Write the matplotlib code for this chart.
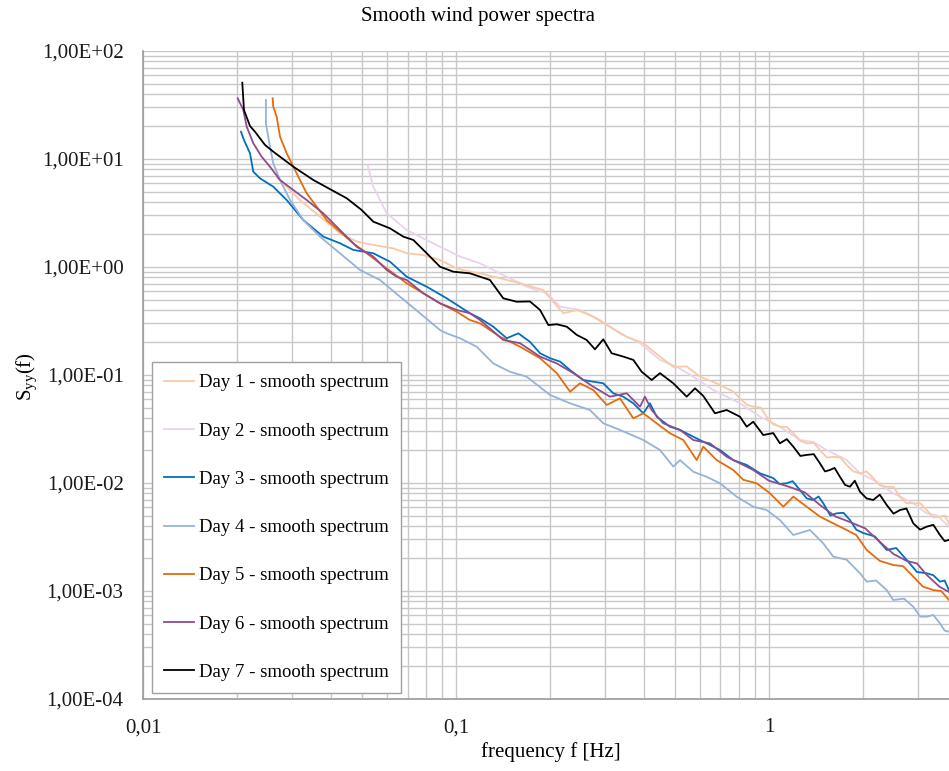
import matplotlib
matplotlib.use("Agg")
import matplotlib.pyplot as plt
from matplotlib.ticker import LogLocator, NullFormatter

plt.rcParams['font.family'] = ['Liberation Serif', 'DejaVu Serif']

# values (frequency in Hz, Syy)
f_day1 = [0.0267, 0.0317, 0.0368, 0.0426, 0.0482, 0.0544, 0.0630, 0.0696, 0.0786, 0.0889, 0.1005, 0.1108,
          0.1193, 0.1382, 0.1602, 0.1901, 0.2023, 0.2204, 0.2432, 0.2745, 0.3030, 0.3511, 0.3967, 0.4485,
          0.4946, 0.5460, 0.6020, 0.6806, 0.7328, 0.77, 0.808, 0.85, 0.891, 0.94, 0.983, 1.03, 1.084, 1.14,
          1.196, 1.26, 1.320, 1.39, 1.455, 1.53, 1.605, 1.69, 1.771, 1.86, 1.953, 2.05, 2.154, 2.26, 2.377,
          2.50, 2.621, 2.75, 2.891, 3.04, 3.190, 3.35, 3.518, 3.64, 3.759]
s_day1 = [6.86, 4.17, 2.92, 2.05, 1.72, 1.60, 1.49, 1.34, 1.29, 1.16, 0.972, 0.905,
          0.874, 0.786, 0.707, 0.612, 0.495, 0.373, 0.400, 0.347, 0.290, 0.226, 0.197, 0.148,
          0.119, 0.120, 0.0965, 0.0838, 0.0753, 0.0700, 0.0608, 0.0530, 0.0509, 0.0500, 0.0411, 0.0350,
          0.0332, 0.0330, 0.0289, 0.0245, 0.0233, 0.0235, 0.0202, 0.0172, 0.0175, 0.0172, 0.0147, 0.0128,
          0.0123, 0.0128, 0.0111, 0.0095, 0.00924, 0.0092, 0.00747, 0.0065, 0.00649, 0.0065, 0.00562,
          0.0048, 0.00488, 0.0050, 0.00423]

f_day2 = [0.0522, 0.0544, 0.0601, 0.0696, 0.0786, 0.0889, 0.1030, 0.1193, 0.1382, 0.1682, 0.1950, 0.2151,
          0.2489, 0.2884, 0.3342, 0.3872, 0.4485, 0.5072, 0.5731, 0.6637, 0.7328, 0.8080, 0.9359, 1.084,
          1.256, 1.385, 1.529, 1.771, 1.953, 2.154, 2.495, 2.891, 3.190, 3.45, 3.759]
s_day2 = [8.80, 5.54, 3.14, 2.20, 1.84, 1.54, 1.25, 1.08, 0.874, 0.657, 0.571, 0.429,
          0.400, 0.323, 0.243, 0.197, 0.138, 0.119, 0.0965, 0.0726, 0.0630, 0.0547, 0.0411, 0.0332,
          0.0250, 0.0240, 0.0202, 0.0163, 0.0123, 0.0107, 0.00803, 0.00649, 0.00524, 0.0050, 0.00394]

f_day3 = [0.02056, 0.02102, 0.02197, 0.02251, 0.02364, 0.02607, 0.02878, 0.03252, 0.03767, 0.04259, 0.04697,
          0.05442, 0.06154, 0.06958, 0.08062, 0.09339, 0.1108, 0.1193, 0.1316, 0.1452, 0.1582, 0.1723,
          0.1856, 0.1998, 0.2151, 0.2315, 0.2550, 0.2745, 0.2955, 0.3181, 0.3424, 0.3686, 0.3967, 0.4167,
          0.4377, 0.4827, 0.5197, 0.5731, 0.6324, 0.6974, 0.7689, 0.8489, 0.9359, 1.032, 1.08, 1.139, 1.19,
          1.256, 1.32, 1.385, 1.44, 1.491, 1.57, 1.645, 1.73, 1.815, 1.90, 2.001, 2.18, 2.377, 2.55, 2.754,
          2.97, 3.190, 3.35, 3.518, 3.64, 3.759]
s_day3 = [17.9, 15.0, 11.3, 7.63, 6.63, 5.54, 4.17, 2.72, 1.91, 1.66, 1.44,
          1.34, 1.12, 0.813, 0.657, 0.513, 0.373, 0.335, 0.280, 0.219, 0.243, 0.203,
          0.159, 0.143, 0.133, 0.111, 0.0899, 0.0867, 0.0838, 0.0677, 0.0630, 0.0547, 0.0442, 0.0547,
          0.0411, 0.0332, 0.0310, 0.0268, 0.0233, 0.0202, 0.0163, 0.0147, 0.0123, 0.0111, 0.0098, 0.00994, 0.0104,
          0.00861, 0.0072, 0.00696, 0.0075, 0.00649, 0.0050, 0.00524, 0.0053, 0.00454, 0.0037, 0.00344, 0.0032,
          0.00240, 0.0025, 0.00194, 0.0015, 0.00146, 0.0014, 0.00122, 0.00125, 0.00102]

f_day4 = [0.02471, 0.02470, 0.02545, 0.02607, 0.02740, 0.02949, 0.03252, 0.03677, 0.04259, 0.04935,
          0.05718, 0.06623, 0.07674, 0.08889, 0.09339, 0.1030, 0.1164, 0.1316, 0.1488, 0.1682, 0.1998,
          0.2315, 0.2679, 0.2955, 0.3342, 0.3967, 0.4485, 0.4946, 0.5197, 0.5731, 0.6324, 0.6974, 0.7884,
          0.8909, 0.983, 1.084, 1.196, 1.352, 1.491, 1.605, 1.77, 1.953, 2.052, 2.20, 2.377, 2.495, 2.70,
          2.891, 3.04, 3.190, 3.35, 3.518, 3.64, 3.759]
s_day4 = [35.2, 21.4, 13.0, 9.12, 6.39, 4.17, 2.72, 1.91, 1.34, 0.938,
          0.758, 0.531, 0.373, 0.261, 0.243, 0.219, 0.183, 0.128, 0.107, 0.0965, 0.0653,
          0.0547, 0.0474, 0.0357, 0.0310, 0.0250, 0.0202, 0.0142, 0.0163, 0.0127, 0.0114, 0.00994, 0.00747,
          0.00603, 0.00562, 0.00454, 0.00330, 0.00367, 0.00276, 0.00208, 0.00195, 0.00146, 0.00122, 0.00125,
          0.00102, 0.000825, 0.00085, 0.000715, 0.00058, 0.000578, 0.00060, 0.000502, 0.00043, 0.000420]

f_day5 = [0.02596, 0.02607, 0.02674, 0.02740, 0.02878, 0.03022, 0.03173, 0.03334, 0.03589, 0.03862, 0.04259,
          0.04697, 0.05185, 0.05718, 0.06305, 0.06958, 0.07862, 0.08889, 0.1005, 0.1108, 0.1193, 0.1382,
          0.1602, 0.1856, 0.2099, 0.2315, 0.2489, 0.2745, 0.3030, 0.3342, 0.3686, 0.3967, 0.4377, 0.4827,
          0.5325, 0.5875, 0.6167, 0.6806, 0.7689, 0.8279, 0.9135, 1.007, 1.111, 1.196, 1.320, 1.455, 1.605,
          1.771, 1.90, 2.052, 2.26, 2.495, 2.68, 2.891, 3.10, 3.349, 3.55, 3.759]
s_day5 = [36.5, 30.5, 24.6, 16.1, 11.3, 8.49, 6.39, 4.81, 3.62, 2.72, 2.12,
          1.66, 1.34, 1.08, 0.874, 0.707, 0.571, 0.461, 0.386, 0.323, 0.301, 0.226,
          0.183, 0.143, 0.104, 0.0700, 0.0838, 0.0726, 0.0528, 0.0608, 0.0397, 0.0442, 0.0357, 0.0289,
          0.0250, 0.0163, 0.0217, 0.0163, 0.0132, 0.0107, 0.00994, 0.00803, 0.00603, 0.00747, 0.00603, 0.00488,
          0.00423, 0.00367, 0.0033, 0.00240, 0.0019, 0.00174, 0.0017, 0.00136, 0.0011, 0.00102, 0.00100, 0.000825]

f_day6 = [0.02007, 0.02092, 0.02145, 0.02251, 0.02394, 0.02545, 0.02740, 0.03022, 0.03334, 0.03767, 0.04259,
          0.04816, 0.05442, 0.06007, 0.06464, 0.06958, 0.07862, 0.08889, 0.1005, 0.1108, 0.1193, 0.1416,
          0.1602, 0.1856, 0.2099, 0.2372, 0.2745, 0.3105, 0.3511, 0.3872, 0.4016, 0.4219, 0.4595, 0.5197,
          0.5731, 0.6479, 0.7328, 0.8909, 1.0, 1.139, 1.3, 1.455, 1.63, 1.815, 2.03, 2.262, 2.5, 2.754,
          2.97, 3.190, 3.5, 3.759]
s_day6 = [36.5, 28.4, 19.9, 14.0, 10.5, 8.49, 6.39, 5.16, 4.17, 3.14, 2.20,
          1.54, 1.25, 0.938, 0.813, 0.758, 0.571, 0.461, 0.400, 0.373, 0.323, 0.211,
          0.197, 0.148, 0.128, 0.104, 0.0779, 0.0630, 0.0677, 0.0509, 0.0630, 0.0474, 0.0357, 0.0310,
          0.0250, 0.0233, 0.0175, 0.0132, 0.0105, 0.00938, 0.0082, 0.00626, 0.0049, 0.00435, 0.0038, 0.00284,
          0.0022, 0.00190, 0.0018, 0.00141, 0.0011, 0.00098]

f_day7 = [0.02076, 0.02102, 0.02197, 0.02279, 0.02453, 0.02607, 0.03022, 0.03501, 0.04006, 0.04475, 0.04997,
          0.05442, 0.06154, 0.06786, 0.07305, 0.08062, 0.08889, 0.09804, 0.1108, 0.1284, 0.1416, 0.1563,
          0.1723, 0.1856, 0.1973, 0.2099, 0.2260, 0.2432, 0.2615, 0.2780, 0.2955, 0.3144, 0.3424, 0.3686,
          0.3921, 0.4219, 0.4485, 0.4946, 0.5460, 0.5803, 0.6167, 0.6722, 0.7328, 0.8080, 0.8489, 0.8909,
          0.9589, 1.032, 1.084, 1.14, 1.196, 1.26, 1.320, 1.39, 1.455, 1.51, 1.566, 1.62, 1.686, 1.75, 1.815,
          1.88, 1.953, 2.05, 2.154, 2.26, 2.377, 2.50, 2.621, 2.75, 2.891, 3.04, 3.190, 3.35, 3.518, 3.64, 3.759]
s_day7 = [50.9, 28.4, 20.2, 17.9, 13.5, 11.7, 8.49, 6.39, 5.16, 4.33, 3.37,
          2.63, 2.28, 1.91, 1.78, 1.34, 1.006, 0.905, 0.874, 0.758, 0.513, 0.477,
          0.480, 0.400, 0.290, 0.295, 0.280, 0.235, 0.211, 0.173, 0.214, 0.159, 0.148, 0.138,
          0.107, 0.0899, 0.104, 0.0838, 0.0630, 0.0753, 0.0640, 0.0442, 0.0474, 0.0411, 0.0332, 0.0369,
          0.0278, 0.0290, 0.0233, 0.0255, 0.0217, 0.0178, 0.0182, 0.0185, 0.0152, 0.0128, 0.0132, 0.0138,
          0.0114, 0.0096, 0.00924, 0.0105, 0.00831, 0.0072, 0.00696, 0.0078, 0.00626, 0.0052, 0.00562,
          0.0058, 0.00423, 0.0037, 0.00394, 0.0041, 0.00330, 0.0029, 0.00297]

labels = ['Day 1 - smooth spectrum', 'Day 2 - smooth spectrum', 'Day 3 - smooth spectrum',
          'Day 4 - smooth spectrum', 'Day 5 - smooth spectrum', 'Day 6 - smooth spectrum',
          'Day 7 - smooth spectrum']
colors = ['#F9C9A4', '#EAD3EA', '#0070C0', '#95B3D7', '#E46C0A', '#8E4B8E', '#000000']
y_ticks = [1e-4, 1e-3, 1e-2, 1e-1, 1e0, 1e1, 1e2]
x_ticks = [0.01, 0.1, 1]
x_ticklabels = ['0,01', '0,1', '1']

series = [(f_day1, s_day1), (f_day2, s_day2), (f_day3, s_day3), (f_day4, s_day4),
          (f_day5, s_day5), (f_day6, s_day6), (f_day7, s_day7)]

fig = plt.figure(figsize=(9.49, 7.71), dpi=100)
ax = fig.add_axes([143 / 949, 1 - 699 / 771, 806 / 949, 648 / 771])

for i, (f, s) in enumerate(series):
    z = 1.5 if i == 1 else 2
    ax.plot(f, s, color=colors[i], lw=1.3, label=labels[i], zorder=z)

ax.set_xscale('log')
ax.set_yscale('log')
ax.set_xlim(0.01, 3.76)
ax.set_ylim(1e-4, 1e2)

ax.set_yticks(y_ticks)
ax.set_yticklabels([f"{v:.2E}".replace('.', ',') for v in y_ticks])
ax.set_xticks(x_ticks)
ax.set_xticklabels(x_ticklabels)
ax.xaxis.set_minor_locator(LogLocator(base=10, subs=range(2, 10), numticks=20))
ax.yaxis.set_minor_locator(LogLocator(base=10, subs=range(2, 10), numticks=20))
ax.xaxis.set_minor_formatter(NullFormatter())
ax.yaxis.set_minor_formatter(NullFormatter())
ax.tick_params(which='both', length=0, labelsize=15, colors='#1a1a1a')
ax.tick_params(axis='y', pad=14)
ax.tick_params(axis='x', pad=14)

ax.grid(True, which='both', color='#c8c8c8', lw=1)
ax.set_axisbelow(True)
for side in ['top', 'right']:
    ax.spines[side].set_visible(False)
for side in ['left', 'bottom']:
    ax.spines[side].set_color('#9a9a9a')
    ax.spines[side].set_linewidth(1.2)

leg = ax.legend(loc='upper left', bbox_to_anchor=(9 / 806, 337 / 648), borderaxespad=0,
                fontsize=13.5, handlelength=1.6, handletextpad=0.25, labelspacing=1.66,
                borderpad=0.65, fancybox=False, framealpha=1)
leg.get_frame().set_edgecolor('#a0a0a0')
leg.get_frame().set_linewidth(1)

fig.text(478 / 949, 1 - 16 / 771, 'Smooth wind power spectra', ha='center', va='center', fontsize=15)
fig.text(551 / 949, 1 - 752 / 771, 'frequency f [Hz]', ha='center', va='center', fontsize=15)
fig.text(27 / 949, 1 - 377 / 771, r'S$_\mathregular{yy}$(f)', ha='center', va='center',
         rotation=90, fontsize=15)

fig.savefig('out.png', dpi=100)
